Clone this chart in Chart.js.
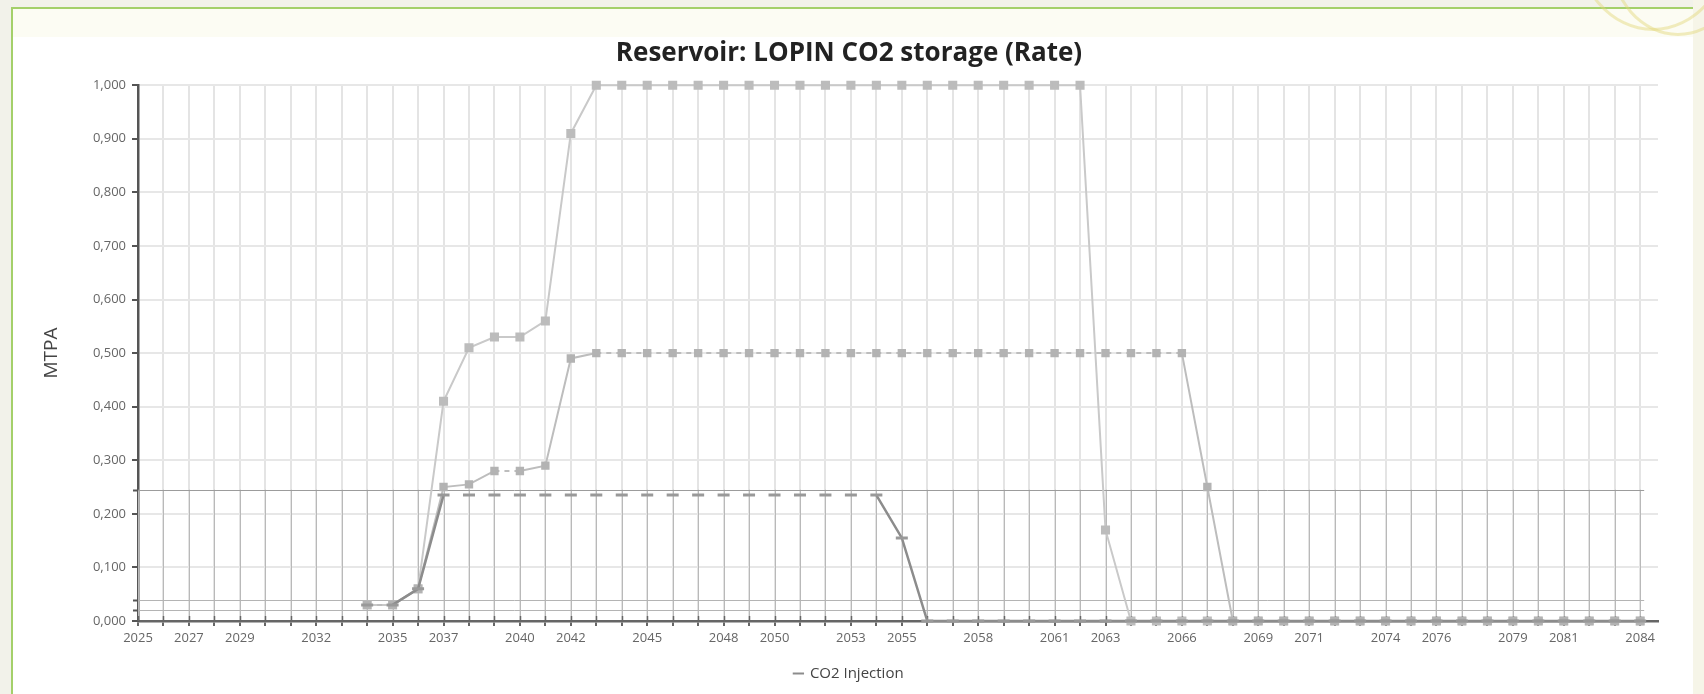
<!DOCTYPE html>
<html>
<head>
<meta charset="utf-8">
<script src="https://cdn.jsdelivr.net/npm/chart.js@4.4.0/dist/chart.umd.min.js"></script>
<style>
  html, body { margin: 0; padding: 0; }
  body { width: 1704px; height: 694px; background: #f2f2ea; position: relative; overflow: hidden; }
  #panel { position: absolute; left: 11px; top: 7px; width: 1682px; height: 687px;
           background: #ffffff; border-left: 2px solid #a4d06a; border-top: 2px solid #a4d06a; }
  #band { position: absolute; left: 13px; top: 9px; width: 1680px; height: 28px; background: #fcfcf3; }
  #edge { position: absolute; left: 1693px; top: 0; width: 11px; height: 694px; background: #f6f5e8; }
  .arco { position: absolute; border-radius: 50%; border: 3px solid rgba(226, 214, 120, 0.45); }
  #wrap { position: absolute; left: 20px; top: 26px; width: 1670px; height: 665px; }
</style>
</head>
<body>
<div id="panel"></div>
<div id="band"></div>
<div id="edge"></div>
<div class="arco" style="left:1575px; top:-150px; width:150px; height:175px;"></div>
<div class="arco" style="left:1610px; top:-120px; width:130px; height:150px;"></div>
<div id="wrap"><canvas id="grafico"></canvas></div>
<script>
// DATOS
const years = [2025, 2026, 2027, 2028, 2029, 2030, 2031, 2032, 2033, 2034,
  2035, 2036, 2037, 2038, 2039, 2040, 2041, 2042, 2043, 2044,
  2045, 2046, 2047, 2048, 2049, 2050, 2051, 2052, 2053, 2054,
  2055, 2056, 2057, 2058, 2059, 2060, 2061, 2062, 2063, 2064,
  2065, 2066, 2067, 2068, 2069, 2070, 2071, 2072, 2073, 2074,
  2075, 2076, 2077, 2078, 2079, 2080, 2081, 2082, 2083, 2084];

const labelYears = [2025, 2027, 2029, 2032, 2035, 2037, 2040, 2042, 2045, 2048, 2050, 2053,
  2055, 2058, 2061, 2063, 2066, 2069, 2071, 2074, 2076, 2079, 2081, 2084];

// 1,0 MTPA
const injection100 = [null, null, null, null, null, null, null, null, null, 0.03,
  0.03, 0.06, 0.41, 0.51, 0.53, 0.53, 0.56, 0.91, 1, 1,
  1, 1, 1, 1, 1, 1, 1, 1, 1, 1,
  1, 1, 1, 1, 1, 1, 1, 1, 0.17, 0,
  0, 0, 0, 0, 0, 0, 0, 0, 0, 0,
  0, 0, 0, 0, 0, 0, 0, 0, 0, 0];

// 0,5 MTPA
const injection050 = [null, null, null, null, null, null, null, null, null, 0.03,
  0.03, 0.06, 0.25, 0.255, 0.28, 0.28, 0.29, 0.49, 0.5, 0.5,
  0.5, 0.5, 0.5, 0.5, 0.5, 0.5, 0.5, 0.5, 0.5, 0.5,
  0.5, 0.5, 0.5, 0.5, 0.5, 0.5, 0.5, 0.5, 0.5, 0.5,
  0.5, 0.5, 0.25, 0, 0, 0, 0, 0, 0, 0,
  0, 0, 0, 0, 0, 0, 0, 0, 0, 0];

// 0,25 MTPA
const injection025 = [null, null, null, null, null, null, null, null, null, 0.03,
  0.03, 0.06, 0.235, 0.235, 0.235, 0.235, 0.235, 0.235, 0.235, 0.235,
  0.235, 0.235, 0.235, 0.235, 0.235, 0.235, 0.235, 0.235, 0.235, 0.235,
  0.155, 0, 0, 0, 0, 0, 0, 0, 0, 0,
  0, 0, 0, 0, 0, 0, 0, 0, 0, 0,
  0, 0, 0, 0, 0, 0, 0, 0, 0, 0];

// lineas de fondo que se ven en la captura
const overlayLevels = [0.245, 0.04, 0.02];
// ----------------

const puntos = (serie) => years.map((anio, i) => ({ x: anio, y: serie[i] }));
const plano = (ctx) => ctx.p0.parsed.y === ctx.p1.parsed.y && ctx.p0.parsed.y > 0;

const lineasFondo = {
    id: 'lineasFondo',
    beforeDatasetsDraw(chart) {
        const { ctx, scales } = chart;
        const x = scales.x, y = scales.y;
        ctx.save();
        ctx.lineWidth = 1;
        ctx.strokeStyle = '#b9b9b9';
        years.forEach(anio => {
            const px = Math.round(x.getPixelForValue(anio)) + 0.5;
            ctx.beginPath();
            ctx.moveTo(px, y.getPixelForValue(0));
            ctx.lineTo(px, y.getPixelForValue(overlayLevels[0]));
            ctx.stroke();
        });
        overlayLevels.forEach((nivel, i) => {
            const py = Math.round(y.getPixelForValue(nivel)) + 0.5;
            ctx.strokeStyle = i === 0 ? '#9c9c9c' : '#b4b4b4';
            ctx.beginPath();
            ctx.moveTo(x.getPixelForValue(years[0]), py);
            ctx.lineTo(x.getPixelForValue(years[years.length - 1]) + 4, py);
            ctx.stroke();
            // marca en el eje Y
            ctx.strokeStyle = '#555555';
            ctx.lineWidth = 2;
            ctx.beginPath();
            ctx.moveTo(x.left - 5, py);
            ctx.lineTo(x.left, py);
            ctx.stroke();
            ctx.lineWidth = 1;
        });
        // cruces del eje X
        ctx.strokeStyle = '#666666';
        ctx.lineWidth = 1.5;
        years.forEach(anio => {
            const px = Math.round(x.getPixelForValue(anio)) + 0.5;
            ctx.beginPath();
            ctx.moveTo(px, y.bottom - 5);
            ctx.lineTo(px, y.bottom);
            ctx.stroke();
        });
        ctx.restore();
    }
};

Chart.defaults.font.family = "'Open Sans', 'Noto Sans', sans-serif";

const dataInyeccion = {
    datasets: [{
        label: 'CO2 Injection',
        data: puntos(injection100),
        borderColor: '#c9c9c9',
        borderWidth: 2,
        pointStyle: 'rect',
        pointRadius: 5,
        pointBackgroundColor: '#bcbcbc',
        pointBorderColor: '#bcbcbc',
        order: 3,
        clip: 8
    }, {
        label: 'CO2 Injection 0,5',
        data: puntos(injection050),
        borderColor: '#bdbdbd',
        borderWidth: 2,
        segment: { borderDash: ctx => plano(ctx) ? [5, 5] : undefined },
        pointStyle: 'rect',
        pointRadius: 4.5,
        pointBackgroundColor: '#b3b3b3',
        pointBorderColor: '#b3b3b3',
        order: 2,
        clip: 8
    }, {
        label: 'CO2 Injection 0,25',
        data: puntos(injection025),
        borderColor: '#8c8c8c',
        borderWidth: 2.5,
        segment: { borderColor: ctx => plano(ctx) ? 'rgba(0,0,0,0)' : undefined },
        pointStyle: 'line',
        pointRadius: 6,
        pointBorderWidth: 3,
        pointBorderColor: '#999999',
        order: 1,
        clip: 8
    }]
};

const configInyeccion = {
    type: 'line',
    data: dataInyeccion,
    plugins: [lineasFondo],
    options: {
        responsive: true,
        maintainAspectRatio: false,
        animation: false,
        layout: { padding: { left: 20, right: 32, top: 0, bottom: 0 } },
        plugins: {
            title: {
                display: true,
                text: 'Reservoir: LOPIN CO2 storage (Rate)',
                color: '#222222',
                font: { size: 26, weight: 'bold' },
                padding: { top: 12, bottom: 16 }
            },
            legend: {
                position: 'bottom',
                labels: {
                    usePointStyle: true,
                    boxWidth: 8,
                    boxHeight: 8,
                    color: '#444444',
                    font: { size: 15 },
                    generateLabels: chart => [{
                        text: chart.data.datasets[0].label,
                        datasetIndex: 0,
                        pointStyle: 'line',
                        strokeStyle: '#8c8c8c',
                        fillStyle: '#8c8c8c',
                        lineWidth: 2,
                        fontColor: '#444444'
                    }]
                }
            },
            tooltip: { enabled: false }
        },
        scales: {
            x: {
                type: 'linear',
                min: 2025,
                max: 2084.7,
                afterBuildTicks: scale => { scale.ticks = years.map(v => ({ value: v })); },
                afterFit: scale => { scale.height = 35; },
                ticks: {
                    autoSkip: false,
                    maxRotation: 0,
                    padding: 4,
                    color: '#666666',
                    font: { size: 13 },
                    callback: v => labelYears.includes(v) ? String(v) : ''
                },
                grid: { color: '#e4e4e4', lineWidth: 2, tickColor: '#666666', tickLength: 5 },
                border: { color: '#666666', width: 2.5 }
            },
            y: {
                min: 0,
                max: 1,
                afterFit: scale => { scale.width = 98; },
                ticks: {
                    stepSize: 0.1,
                    padding: 6,
                    color: '#666666',
                    font: { size: 13 },
                    callback: v => v.toFixed(3).replace('.', ',')
                },
                grid: { color: '#e7e7e7', lineWidth: 2, tickColor: '#555555', tickLength: 6 },
                border: { color: '#555555', width: 2.5 },
                title: {
                    display: true,
                    text: 'MTPA',
                    color: '#444444',
                    font: { size: 19 },
                    padding: { top: 0, bottom: 0 }
                }
            }
        }
    }
};

const lienzo = document.getElementById('grafico');
const chartInyeccion = new Chart(lienzo, configInyeccion);
</script>
</body>
</html>
